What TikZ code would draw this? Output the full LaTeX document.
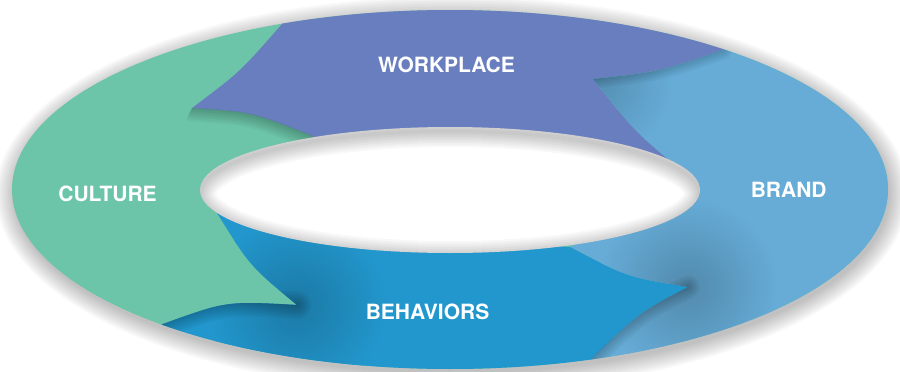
\documentclass[tikz,border=0pt]{standalone}
\usepackage{fontspec}
\setmainfont{TeX Gyre Heros}
\definecolor{culture}{RGB}{108,197,168}
\definecolor{workplace}{RGB}{105,126,191}
\definecolor{brand}{RGB}{102,172,215}
\definecolor{behav}{RGB}{34,151,205}
\def\wpPath{(300,-40) -- (282,24) .. controls (240,72) .. (192,108) .. controls (252,112) .. (313,136) -- (330,190) -- (660,190) -- (690,177) .. controls (636,133) .. (593,79) .. controls (658,72) .. (723,50) -- (760,-40) -- cycle}
\def\brPath{(760,-40) -- (723,50) .. controls (658,72) .. (593,79) .. controls (636,133) .. (690,177) -- (610,228) -- (570,247) .. controls (627,277) .. (688,287) .. controls (640,312) .. (590,360) -- (600,420) -- (950,420) -- (950,-40) -- cycle}
\def\bhPath{(570,247) .. controls (627,277) .. (688,287) .. controls (640,312) .. (590,360) -- (600,420) -- (150,420) -- (160,325) .. controls (226,301) .. (297,305) .. controls (250,266) .. (217,213) -- (300,225) -- (450,240) -- cycle}
\begin{document}
\begin{tikzpicture}[x=1pt,y=-1pt,
  seglabel/.style={text=white, font=\fontsize{21}{24}\selectfont\bfseries, inner sep=0pt},
  softshade/.style={line width=#1pt, black, opacity=0.035, line cap=round}]
\useasboundingbox (0,0) rectangle (900,372);
% outer drop shadow
\foreach \k in {0,2,...,18} {
  \pgfmathsetmacro\rx{438+\k}
  \pgfmathsetmacro\ry{179.5+\k}
  \fill[black, opacity=0.028] (452,194) ellipse [x radius=\rx pt, y radius=\ry pt];
}
\begin{scope}
  \clip (450,189.5) ellipse [x radius=438pt, y radius=179.5pt];
  \fill[culture] (-10,-10) rectangle (910,382);
  \fill[workplace] \wpPath;
  \fill[brand] \brPath;
  \fill[behav] \bhPath;
  % shadow of workplace tip on culture
  \begin{scope}
    \clip (192,108) .. controls (252,112) .. (313,136) -- (313,300) -- (100,300) -- cycle;
    \foreach \w in {3,7,...,27} \draw[softshade=\w] (192,108) .. controls (252,112) .. (313,136);
  \end{scope}
  % shadow of culture tip on behaviors
  \begin{scope}
    \clip \bhPath;
    \shade[inner color=behav!80!black, outer color=behav] (297,305) circle (90pt);
    \foreach \w in {3,7,...,27} \draw[softshade=\w] (297,305) .. controls (226,301) .. (160,325);
  \end{scope}
  % shadow of behaviors tip on brand
  \begin{scope}
    \clip \brPath;
    \shade[inner color=brand!80!black, outer color=brand] (688,287) circle (90pt);
    \foreach \w in {3,7,...,23} \draw[softshade=\w] (688,287) .. controls (640,312) .. (590,360);
  \end{scope}
  % shadow along brand tip
  \begin{scope}
    \clip \brPath;
    \shade[inner color=brand!82!black, outer color=brand] (593,79) circle (80pt);
    \foreach \w in {3,7,...,19} \draw[softshade=\w] (723,50) .. controls (658,72) .. (593,79);
  \end{scope}
\end{scope}
% hole
\fill[white] (450,190) ellipse [x radius=250pt, y radius=63pt];
\begin{scope}
  \clip (450,190) ellipse [x radius=250pt, y radius=63pt];
  \foreach \w in {4,8,...,32} \draw[line width=\w pt, black, opacity=0.028] (450,194) ellipse [x radius=250pt, y radius=63pt];
\end{scope}
% labels
\node[seglabel] (workplace) at (446.5,64.5) {WORKPLACE};
\node[seglabel] (culture) at (107.5,194.3) {CULTURE};
\node[seglabel] (brand) at (788.7,189.5) {BRAND};
\node[seglabel] (behaviors) at (427.5,312) {BEHAVIORS};
\end{tikzpicture}
\end{document}
